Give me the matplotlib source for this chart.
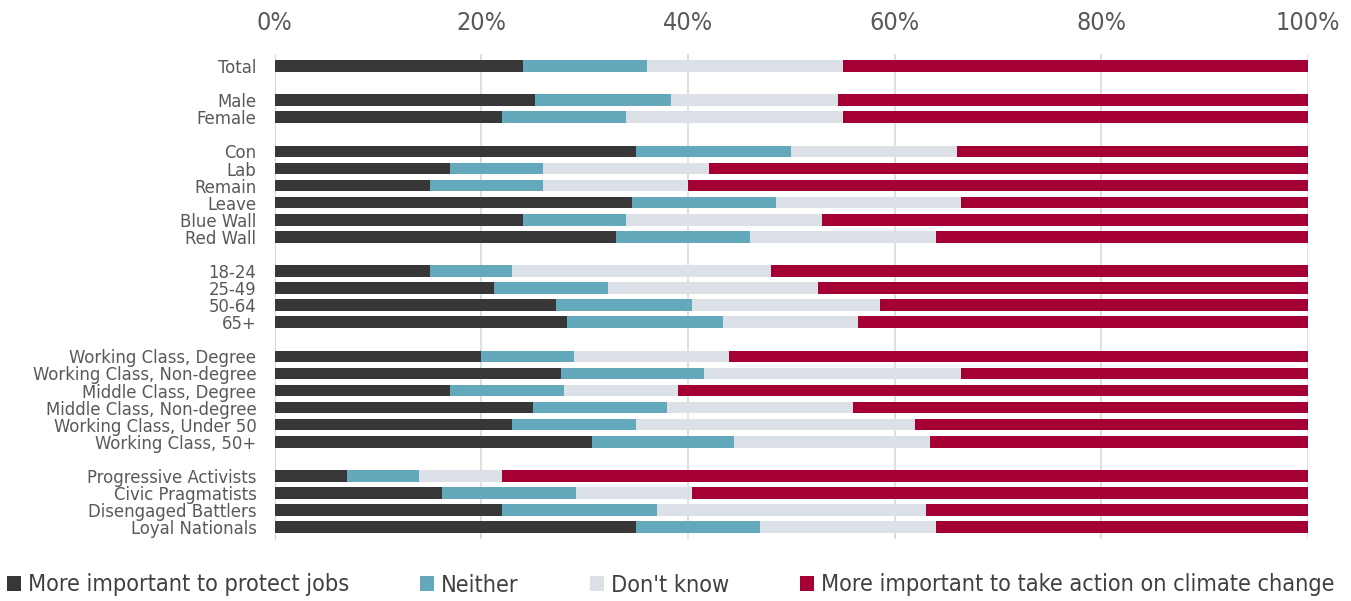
import matplotlib
matplotlib.use("Agg")
import matplotlib.pyplot as plt
from matplotlib.patches import Patch

plt.rcParams['font.family'] = ['DejaVu Sans']
plt.rcParams['font.stretch'] = 'condensed'

categories = [
    "Total", None, "Male", "Female", None,
    "Con", "Lab", "Remain", "Leave", "Blue Wall", "Red Wall", None,
    "18-24", "25-49", "50-64", "65+", None,
    "Working Class, Degree", "Working Class, Non-degree", "Middle Class, Degree",
    "Middle Class, Non-degree", "Working Class, Under 50", "Working Class, 50+", None,
    "Progressive Activists", "Civic Pragmatists", "Disengaged Battlers", "Loyal Nationals",
]

protect_jobs = [24, None, 25.2, 22, None, 35, 17, 15, 34.6, 24, 33, None,
                15, 21.2, 27.2, 28.3, None, 20, 27.7, 17, 25, 23, 30.7, None,
                7, 16.2, 22, 35]
neither = [12, None, 13.2, 12, None, 15, 9, 11, 13.9, 10, 13, None,
           8, 11.1, 13.2, 15.1, None, 9, 13.9, 11, 13, 12, 13.8, None,
           7, 13, 15, 12]
dont_know = [19, None, 16.1, 21, None, 16, 16, 14, 17.9, 19, 18, None,
             25, 20.3, 18.2, 13.1, None, 15, 24.8, 11, 18, 27, 18.9, None,
             8, 11.2, 26, 17]
climate = [45, None, 45.5, 45, None, 34, 58, 60, 33.6, 47, 36, None,
           52, 47.4, 41.4, 43.5, None, 56, 33.6, 61, 44, 38, 36.6, None,
           78, 59.6, 37, 36]

series_names = ["More important to protect jobs", "Neither", "Don't know",
                "More important to take action on climate change"]
colors = ["#373737", "#63a8bb", "#dce1e8", "#a50034"]
tick_values = [0, 20, 40, 60, 80, 100]
tick_labels = ["0%", "20%", "40%", "60%", "80%", "100%"]

fig = plt.figure(figsize=(13.51, 6.01), dpi=100)
ax = fig.add_axes([0.2032, 0.103, 0.7650, 0.807])

rows = [i for i, c in enumerate(categories) if c is not None]
left = [0.0] * len(rows)
for vals, col in zip([protect_jobs, neither, dont_know, climate], colors):
    w = [vals[i] for i in rows]
    ax.barh(rows, w, left=left, height=0.68, color=col, linewidth=0, zorder=3)
    left = [a + b for a, b in zip(left, w)]

ax.set_ylim(len(categories) - 0.3, -0.7)
ax.set_xlim(0, 100)
ax.set_yticks(rows)
ax.set_yticklabels([categories[i] for i in rows], fontsize=13.2, color="#595959")
ax.xaxis.tick_top()
ax.set_xticks(tick_values)
ax.set_xticklabels(tick_labels, fontsize=18, color="#595959")
ax.tick_params(axis='y', length=0, pad=13)
ax.tick_params(axis='x', length=0, pad=14)
for s in ["top", "right", "bottom"]:
    ax.spines[s].set_visible(False)
ax.spines["left"].set_color("#d9d9d9")
ax.grid(axis='x', color="#d9d9d9", linewidth=1.2, zorder=0)
ax.set_axisbelow(True)

handles = [Patch(facecolor=c, edgecolor='none') for c in colors]
fig.legend(handles, series_names, loc='center left', bbox_to_anchor=(-0.002, 1 - 585 / 601),
           ncol=4, frameon=False, fontsize=16.8, handlelength=0.6, handleheight=0.6,
           handletextpad=0.3, columnspacing=3.05, labelcolor="#404040",
           borderaxespad=0.0)

fig.savefig("out.png", dpi=100, facecolor="white")
